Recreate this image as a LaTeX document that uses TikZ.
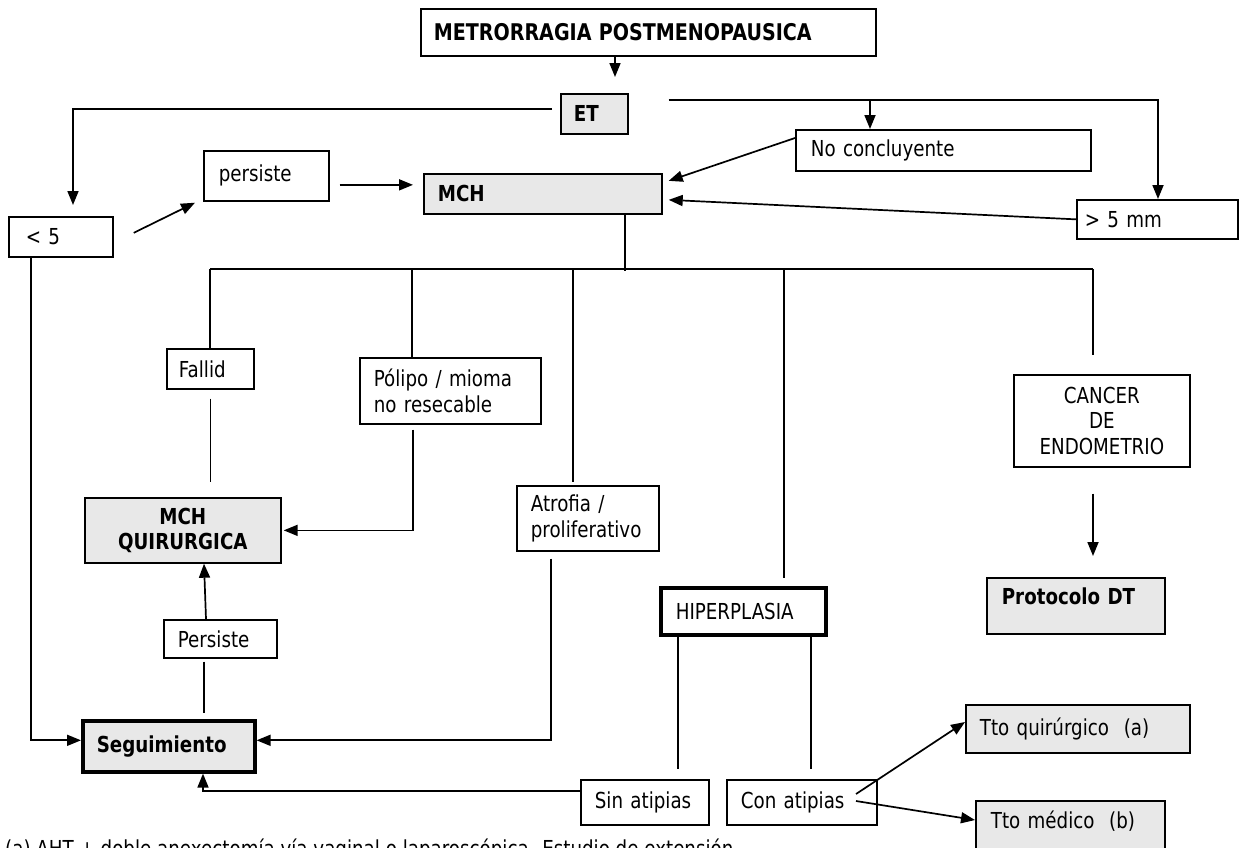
\documentclass[tikz,border=0pt]{standalone}
\usepackage{fontspec}
\setmainfont{DejaVu Sans}[FakeStretch=0.83]
\usetikzlibrary{calc,arrows.meta}
\definecolor{boxgray}{RGB}{232,232,232}

% box from (x1,y1) to (x2,y2) with left padding: #1 style, #2 name, #3 x1, #4 y1, #5 x2, #6 y2, #7 padding, #8 text
\newcommand{\flowbox}[8]{%
  \pgfmathsetmacro{\fbW}{#5-#3}%
  \pgfmathsetmacro{\fbH}{#6-#4}%
  \pgfmathsetmacro{\fbT}{#5-#3-2*#7}%
  \node[#1, minimum width=\fbW pt, minimum height=\fbH pt, text width=\fbT pt] (#2) at (#3,#4) {#8};}

\begin{document}
\begin{tikzpicture}[x=1pt,y=-1pt,
  every node/.style={font=\fontsize{22}{25.5}\selectfont},
  box/.style={draw, line width=1.7pt, fill=white, inner sep=0pt, anchor=north west, align=left},
  gbox/.style={box, fill=boxgray},
  heavy/.style={line width=3.6pt},
  conn/.style={line width=1.7pt},
  arr/.style={conn, -{Triangle[length=14pt,width=11pt]}},
]
\path[use as bounding box] (0,0) rectangle (1239,847);
\clip (0,0) rectangle (1239,847);

% ---------- boxes ----------
\flowbox{box}{top}{420}{8}{875}{55}{13}{\fontsize{23}{26}\selectfont\bfseries METRORRAGIA POSTMENOPAUSICA}
\flowbox{gbox}{et}{560}{93}{627}{133}{13}{\bfseries ET}
\flowbox{box}{nocon}{795}{129}{1090}{170}{15}{No concluyente}
\flowbox{box}{gt5}{1076}{199}{1237}{238}{8}{> 5 mm}
\flowbox{box}{persiste}{203}{150}{328}{200}{15}{persiste}
\flowbox{box}{lt5}{8}{216}{112}{256}{17}{< 5}
\flowbox{gbox}{mch}{423}{173}{661}{213}{14}{\bfseries MCH}
\flowbox{box}{fallid}{166}{348}{253}{388}{12}{Fallid}
\flowbox{box}{polipo}{359}{357}{540}{423}{14}{Pólipo / mioma\\no resecable}
\flowbox{box, align=center}{cancer}{1013}{374}{1189}{466}{8}{CANCER\\DE\\ENDOMETRIO}
\flowbox{gbox, align=center}{mchq}{84}{497}{280}{562}{6}{\bfseries MCH\\QUIRURGICA}
\flowbox{box}{atrofia}{516}{485}{658}{550}{14}{Atrofia /\\proliferativo}
\flowbox{box}{persiste2}{163}{619}{276}{657}{14}{Persiste}
\flowbox{gbox, heavy}{seg}{81}{719}{253}{770}{14}{\bfseries Seguimiento}
\flowbox{box, heavy}{hiper}{659}{586}{824}{633}{15}{HIPERPLASIA}
\flowbox{gbox, text height=16pt, text depth=19pt}{protocolo}{986}{577}{1164}{633}{15}{\bfseries Protocolo DT}
\flowbox{box}{sin}{580}{779}{708}{824}{14}{Sin atipias}
\flowbox{box}{con}{726}{779}{876}{824}{14}{Con atipias}
\flowbox{gbox}{ttoq}{965}{704}{1189}{752}{14}{Tto quirúrgico~ (a)}
\flowbox{gbox, text height=16pt, text depth=31pt}{ttom}{975}{800}{1164}{870}{15}{Tto médico~ (b)}

% footnote along the lower edge
\node[anchor=base west, inner sep=0pt] (nota) at (5,856)
  {(a) AHT + doble anexectomía vía vaginal o laparoscópica. Estudio de extensión};

% ---------- branch points ----------
\coordinate (brL) at (210,269);
\coordinate (brP) at (412,269);
\coordinate (brA) at (573,269);
\coordinate (brH) at (784,269);
\coordinate (brR) at (1093,269);

% ---------- connectors ----------
\draw[arr] ($(top.south west)+(195,0)$) -- ($(et.north west)+(55,-16)$);
\draw[arr] ($(et.west)+(-8,-5)$) -| ($(lt5.north west)+(65,-11)$);
\draw[arr] ($(et.east)+(40,-14)$) -| ($(gt5.north west)+(82,0)$);
\draw[arr] ($(nocon.north west)+(75,-30)$) -- ($(nocon.north west)+(75,0)$);

\draw[arr] ($(lt5.east)+(20,-4)$) -- ($(persiste.south west)+(-8,1)$);
\draw[arr] ($(persiste.east)+(10,9)$) -- ($(mch.west)+(-10,-9)$);
\draw[arr] ($(nocon.north west)+(0,9)$) -- ($(mch.east)+(6,-13)$);
\draw[arr] (gt5.west) -- ($(mch.east)+(6,6)$);

\draw[conn] ($(mch.south west)+(202,0)$) -- ($(mch.south west)+(202,56)$);
\draw[conn] (brL) -- (brR);

\draw[conn] (brL) -- (brL |- fallid.north);
\draw[conn] ($(fallid.south)+(0,9)$) -- ($(mchq.north -| fallid.south)+(0,-15)$);

\draw[conn] (brP) -- (brP |- polipo.north);
\draw[arr] ($(polipo.south west)+(54,5)$) |- ($(mchq.east)+(2,0)$);

\draw[conn] (brA) -- ($(brA |- atrofia.north)+(0,-3)$);
\draw[arr] ($(atrofia.south west)+(35,7)$) |- ($(seg.east)+(0,-6)$);

\draw[conn] (brH) -- ($(brH |- hiper.north)+(0,-8)$);
\draw[conn] (brR) -- ($(brR |- cancer.north)+(0,-19)$);
\draw[arr] ($(cancer.south -| brR)+(0,26)$) -- ($(protocolo.north -| brR)+(0,-21)$);

\draw[arr] ($(lt5.south west)+(23,0)$) |- ($(seg.west)+(0,-6)$);

\draw[arr] ($(persiste2.north west)+(43,0)$) -- ($(mchq.south west)+(120,0)$);
\draw[conn] ($(persiste2.south west)+(41,3)$) -- ($(seg.north west)+(123,-6)$);

\draw[conn] ($(hiper.south west)+(19,0)$) -- ($(sin.north west)+(98,-10)$);
\draw[conn] ($(hiper.south west)+(152,0)$) -- ($(con.north west)+(85,-10)$);

\draw[arr] ($(sin.north west)+(0,12)$) -| ($(seg.south west)+(122,0)$);

\draw[arr] ($(con.north west)+(130,15)$) -- ($(ttoq.north west)+(0,18)$);
\draw[arr] ($(con.north west)+(130,22)$) -- ($(ttom.north west)+(0,20)$);
\end{tikzpicture}
\end{document}
